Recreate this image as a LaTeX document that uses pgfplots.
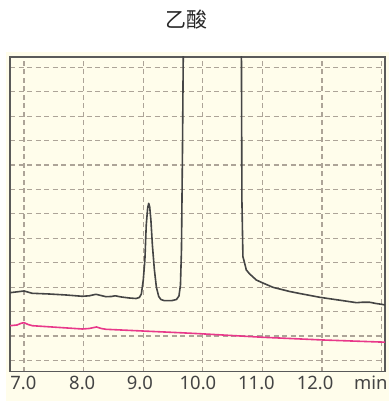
\documentclass[border=0pt]{standalone}
\usepackage{pgfplots}
\pgfplotsset{compat=1.18}
\usepackage{fontspec}
\setmainfont{Noto Sans}
\newfontfamily\cjk{Noto Sans CJK SC}
\definecolor{cream}{HTML}{FFFDEB}
\definecolor{gridc}{HTML}{ADA498}
\definecolor{framec}{HTML}{5A5A5A}
\definecolor{curvec}{HTML}{454545}
\definecolor{pinkc}{HTML}{E8388A}
\definecolor{labc}{HTML}{444444}
\begin{document}
\begin{tikzpicture}
\useasboundingbox (0,0) rectangle (389bp,403bp);
\fill[cream] (6bp,2bp) rectangle (389bp,351bp);
\node[font=\cjk\fontsize{21}{24}\selectfont, text=black!85] at (186.5bp,383bp) {乙酸};
\begin{axis}[
  at={(10bp,31.3bp)}, anchor=south west,
  scale only axis, width=375bp, height=314.7bp,
  xmin=6.764, xmax=13.056, ymin=0.537, ymax=13.42,
  xtick={7,8,9,10,11,12,13}, xticklabels={},
  ytick={1,2,3,4,5,6,7,8,9,10,11,12,13}, yticklabels={},
  major tick length=0pt,
  grid=major,
  major grid style={gridc, line width=1.2bp, dash pattern=on 5bp off 3.5bp},
  axis line style={framec, line width=1.5bp},
  extra x ticks={6.99,7.976,8.943,9.918,10.899,11.883,12.817},
  extra x tick labels={7.0,8.0,9.0,10.0,11.0,12.0,min},
  extra x tick style={grid=none, major tick length=0pt},
  xticklabel style={font=\fontsize{18.5}{20}\selectfont, text=labc, yshift=-1bp},
  axis background/.style={fill=cream},
]
\addplot[curvec, line width=1.6bp, line join=round] coordinates {
(6.764,3.771) (7.0,3.841) (7.135,3.747) (7.42,3.718) (7.706,3.677) (7.976,3.624)
(8.093,3.644) (8.206,3.706) (8.374,3.607) (8.463,3.616) (8.53,3.644) (8.632,3.595)
(8.766,3.554) (8.879,3.534) (8.934,3.575) (8.968,3.718) (9.0,4.29) (9.027,5.11)
(9.05,6.54) (9.074,7.24) (9.091,7.43) (9.108,7.28) (9.128,6.75) (9.153,5.72)
(9.187,4.70) (9.22,4.0) (9.259,3.616) (9.296,3.493) (9.355,3.444) (9.473,3.444)
(9.557,3.493) (9.599,3.636) (9.624,4.086) (9.641,5.52) (9.658,9.61) (9.676,15)
(10.645,15) (10.655,7.566) (10.672,5.245) (10.7,4.99) (10.729,4.70) (10.785,4.54)
(10.897,4.29) (10.987,4.19) (11.177,3.99) (11.289,3.923) (11.457,3.82) (11.626,3.738)
(11.962,3.583) (12.214,3.493) (12.354,3.444) (12.579,3.362) (12.685,3.382) (12.803,3.378)
(12.904,3.329) (13.0,3.296) (13.056,3.268)
};
\addplot[pinkc, line width=1.6bp, line join=round] coordinates {
(6.764,2.420) (6.882,2.449) (6.95,2.519) (7.0,2.543) (7.067,2.470) (7.14,2.420)
(7.42,2.375) (7.981,2.285) (8.093,2.306) (8.216,2.367) (8.295,2.306) (8.374,2.273)
(8.99,2.203) (9.607,2.134) (9.944,2.093) (11.008,1.946) (12.018,1.835) (13.056,1.745)
};
\end{axis}
\end{tikzpicture}
\end{document}
